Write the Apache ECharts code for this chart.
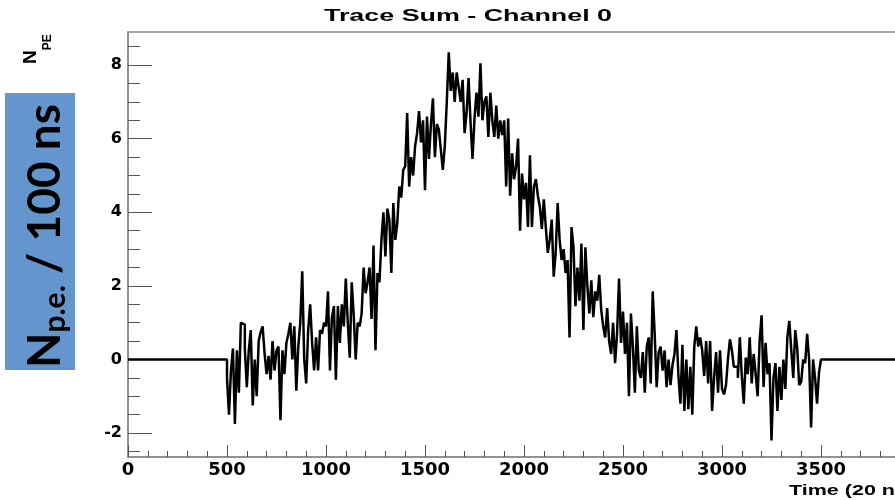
<!DOCTYPE html>
<html><head><meta charset="utf-8">
<script src="https://cdn.jsdelivr.net/npm/echarts@6/dist/echarts.min.js"></script>
<style>html,body{margin:0;padding:0;background:#fff}#c{width:895px;height:500px}</style>
</head><body><div id="c"></div>
<script>
// ---- data (bin contents, N_PE per bin, 10 time units per bin) ----
const BIN_START = 500;
const BIN_WIDTH = 10;
const TRACE_END = 3500;
const X_MIN = 0, X_MAX = 4000, X_STEP = 500;
const Y_MIN = -2.65, Y_MAX = 8.9;
const Y_LABELS = [-2, 0, 2, 4, 6, 8];
const Y_MINOR = [-2.5, -1.5, -1, -0.5, 0.5, 1, 1.5, 2.5, 3, 3.5, 4.5, 5, 5.5, 6.5, 7, 7.5, 8.5];

// 500 - 1090
const seg1 = [-0.5, -1.5, -0.3, 0.3, -1.75, 0.25, -0.9, 1.0, 0.95, 0.3,
  -0.75, 0.25, 0.8, -1.25, 0.0, -1.0, 0.5, 0.75, 0.9, 0.15,
  -0.4, 0.1, -0.55, 0.5, -0.3, 0.25, 0.35, -1.65, 0.25, -0.4,
  0.45, 0.7, 1.0, 0.0, 0.9, -0.85, 0.35, 1.0, 2.4, 0.0,
  -0.65, 0.8, 1.5, 0.45, -0.3, 0.6, -0.3, 0.8, 0.7, 1.0,
  0.9, 1.85, -0.3, 1.15, 1.45, -0.55, 1.45, 0.45, 1.5, 0.9];
// 1100 - 1690
const seg2 = [2.2, 1.0, 0.05, 2.1, 1.2, 0.0, 1.0, 0.9, 1.25, 2.5,
  1.8, 2.1, 2.5, 1.1, 3.1, 0.25, 2.35, 2.1, 3.25, 4.0,
  2.8, 4.1, 3.8, 2.35, 4.25, 3.25, 3.7, 4.7, 4.4, 5.15,
  5.25, 6.7, 4.7, 5.5, 5.0, 5.8, 6.15, 6.75, 5.9, 6.5,
  4.6, 6.6, 5.45, 6.4, 7.1, 5.5, 6.4, 6.25, 5.7, 5.15,
  5.8, 7.0, 8.35, 7.3, 7.8, 7.0, 7.8, 7.4, 7.0, 7.6];
// 1700 - 2290
const seg3 = [6.15, 6.7, 7.65, 6.45, 5.45, 6.55, 7.25, 6.6, 8.05, 6.5,
  7.0, 7.15, 6.05, 7.25, 6.5, 6.05, 6.9, 6.0, 6.5, 6.1,
  6.5, 4.7, 6.55, 4.45, 5.6, 4.9, 5.25, 6.0, 3.5, 5.05,
  4.35, 4.8, 3.6, 5.55, 3.6, 4.7, 4.9, 4.45, 4.15, 3.55,
  4.35, 3.6, 2.9, 3.25, 3.8, 2.25, 2.9, 4.25, 3.25, 2.7,
  3.0, 2.35, 2.7, 0.6, 3.6, 3.05, 1.45, 2.5, 1.6, 3.15];
// 2300 - 2890
const seg4 = [0.8, 3.05, 2.0, 1.25, 2.15, 1.15, 1.85, 1.6, 2.3, 1.35,
  0.9, 0.6, 1.4, 0.5, 0.15, 1.0, -0.1, 0.7, 2.2, 0.45,
  1.3, 0.15, 1.0, -1.0, 1.25, 0.35, -0.9, 0.9, -0.3, -0.5,
  0.2, -0.9, 0.35, 0.6, -0.65, 1.85, 0.7, -0.75, 0.2, 0.35,
  -0.3, 0.25, -0.75, 0.0, -0.7, -0.15, 0.15, 0.8, -0.45, -1.2,
  0.4, -1.4, 0.0, -1.35, -0.2, -1.5, 0.35, 0.9, 0.35, 0.6];
// 2900 - 3490
const seg5 = [0.25, -0.45, 0.5, -0.65, 0.5, -1.4, -0.5, 0.2, -0.9, 0.25,
  -0.8, -0.95, -0.7, 0.0, 0.55, 0.25, -0.2, -0.2, -0.5, 0.6,
  -0.45, -1.2, 0.05, -0.4, 0.6, -0.65, 0.15, -0.4, -1.0, 0.5,
  1.2, -0.75, 0.45, -0.4, -0.1, -2.2, -0.5, -0.1, -1.4, -0.2,
  -1.1, 0.0, -0.8, 0.6, 1.05, 0.25, -0.5, 0.8, 0.3, -0.7,
  -0.6, 0.0, -0.1, 0.7, 0.0, -1.85, 0.0, -0.5, -1.2, -0.35];

const TITLE = 'Trace Sum - Channel 0';
const X_NAME = 'Time (20 ns)';

// ---- build histogram points (bin left edges) ----
const bins = [].concat(seg1, seg2, seg3, seg4, seg5);
const pts = [[X_MIN, 0]];
bins.forEach((v, i) => pts.push([BIN_START + i * BIN_WIDTH, v]));
pts.push([TRACE_END, 0]);
pts.push([X_MAX, 0]);

// text measuring helper
const mctx = document.createElement('canvas').getContext('2d');
function tw(text, font) { mctx.font = font; return mctx.measureText(text).width; }

const FF = "'Liberation Sans', Arial, sans-serif";
const titleFont = 'bold 16px ' + FF;
const titleScale = 288 / tw(TITLE, titleFont);
const xnFont = 'bold 15px ' + FF;
const xnScale = 106 / tw('Time (20 n', xnFont);

// big label
const BIGF = "Lato, 'Liberation Sans', sans-serif";
const bigSize = 46, subSize = 30;
const wN = tw('N', 'bold ' + bigSize + 'px ' + BIGF);
const wPE = tw('p.e.', 'bold ' + subSize + 'px ' + BIGF);
const smallN = tw('N', 'bold 19px ' + FF);

const chart = echarts.init(document.getElementById('c'), null, {renderer: 'canvas'});
chart.setOption({
  animation: false,
  backgroundColor: '#fff',
  grid: {left: 128, top: 32, right: -25, bottom: 43, show: true, borderColor: '#8a8a8a', borderWidth: 1.5,
         containLabel: false, outerBoundsMode: 'none'},
  xAxis: {
    type: 'value', min: X_MIN, max: X_MAX, interval: X_STEP,
    axisLine: {show: true, onZero: false, lineStyle: {color: '#8a8a8a', width: 1.5}},
    axisTick: {show: true, inside: true, length: 12, lineStyle: {color: '#555', width: 1}},
    minorTick: {show: true, splitNumber: 5, length: 6, lineStyle: {color: '#555', width: 1}},
    axisLabel: {color: '#000', fontFamily: 'DejaVu Sans', fontWeight: 'bold', fontSize: 18, margin: 4,
                showMaxLabel: true, formatter: v => String(v)},
    splitLine: {show: false}, minorSplitLine: {show: false}
  },
  yAxis: [{
    type: 'value', min: Y_MIN, max: Y_MAX, position: 'left',
    axisLine: {show: true, onZero: false, lineStyle: {color: '#8a8a8a', width: 1.5}},
    axisTick: {show: true, inside: true, length: 24, customValues: Y_LABELS, lineStyle: {color: '#555', width: 1}},
    axisLabel: {customValues: Y_LABELS, color: '#000', fontFamily: 'DejaVu Sans', fontWeight: 'bold', fontSize: 16, margin: 6,
                formatter: v => String(v)},
    splitLine: {show: false}
  }, {
    type: 'value', min: Y_MIN, max: Y_MAX, position: 'left',
    axisLine: {show: false},
    axisTick: {show: true, inside: true, length: 12, customValues: Y_MINOR, lineStyle: {color: '#555', width: 1}},
    axisLabel: {show: false},
    splitLine: {show: false}
  }],
  series: [{
    type: 'line', step: 'end', data: pts, showSymbol: false, symbol: 'none',
    lineStyle: {color: '#000', width: 2.5}, clip: true, silent: true
  }],
  graphic: [
    {type: 'text', x: 468, y: 17, scaleX: titleScale, style: {text: TITLE, font: titleFont, fill: '#000', align: 'center', verticalAlign: 'middle'}},
    {type: 'text', x: 789, y: 491, scaleX: xnScale, style: {text: X_NAME, font: xnFont, fill: '#000', align: 'left', verticalAlign: 'middle'}},
    {type: 'rect', shape: {x: 5, y: 93, width: 70, height: 277}, style: {fill: '#6495cd'}},
    {type: 'group', x: 45, y: 368, rotation: Math.PI / 2, children: [
      {type: 'text', x: 0, y: 0, style: {text: 'N', font: 'bold ' + bigSize + 'px ' + BIGF, fill: '#000', align: 'left', verticalAlign: 'middle'}},
      {type: 'text', x: wN, y: 10, style: {text: 'p.e.', font: 'bold ' + subSize + 'px ' + BIGF, fill: '#000', align: 'left', verticalAlign: 'middle'}},
      {type: 'text', x: wN + wPE, y: 0, style: {text: ' / 100 ns', font: 'bold ' + bigSize + 'px ' + BIGF, fill: '#000', align: 'left', verticalAlign: 'middle'}}
    ]},
    {type: 'group', x: 31, y: 64, rotation: Math.PI / 2, children: [
      {type: 'text', x: 0, y: 0, style: {text: 'N', font: 'bold 19px ' + FF, fill: '#000', align: 'left', verticalAlign: 'middle'}},
      {type: 'text', x: smallN, y: 17, style: {text: 'PE', font: 'bold 12px ' + FF, fill: '#000', align: 'left', verticalAlign: 'middle'}}
    ]}
  ]
});
</script></body></html>
